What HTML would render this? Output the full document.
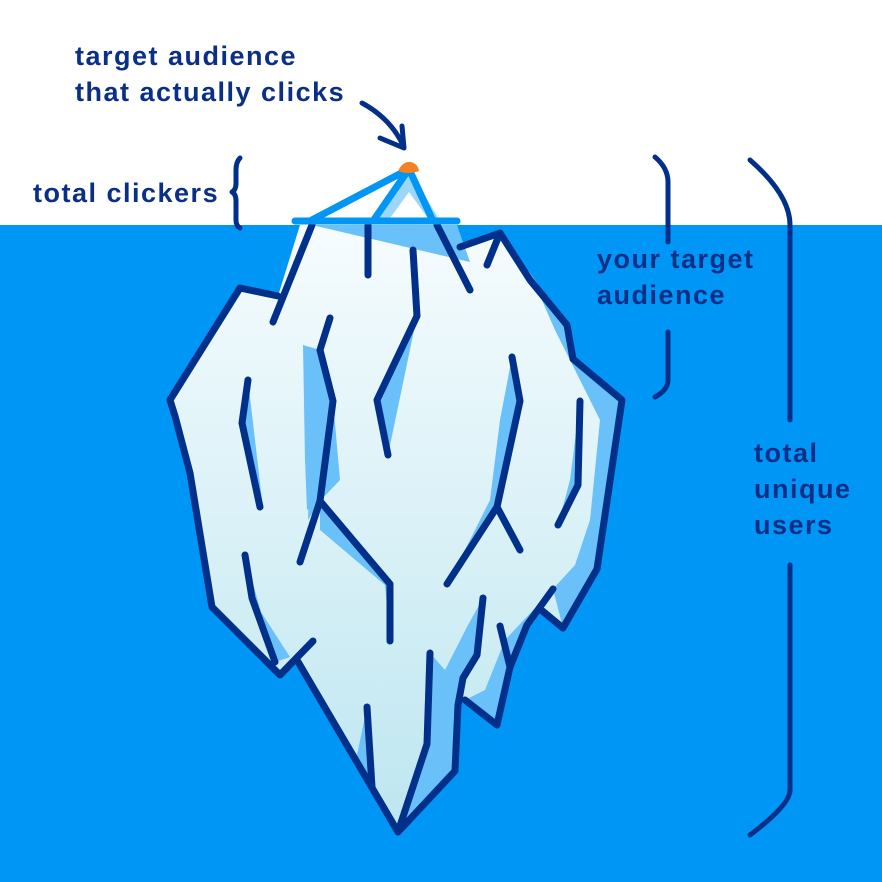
<!DOCTYPE html>
<html><head><meta charset="utf-8"><style>
html,body{margin:0;padding:0;background:#fff}
svg{display:block}
text{font-family:"Liberation Sans",sans-serif;fill:#0a2f86;font-size:27px;font-weight:bold;letter-spacing:1.5px}
</style></head><body>
<svg width="882" height="882" viewBox="0 0 882 882" xmlns="http://www.w3.org/2000/svg">
<defs>
<linearGradient id="g" x1="0" y1="0" x2="0" y2="1">
<stop offset="0" stop-color="#f6fcfe"/><stop offset="1" stop-color="#bde6f0"/>
</linearGradient>
</defs>
<rect x="0" y="225" width="882" height="657" fill="#0096f5"/>

<path d="M300,225 L437,225 L460,247 L500,233 L530,273 L567,325 L573,359 L622,400 L597,569 L563,628 L540,609 L527,625 L510,667 L497,725 L465,700 L458,705 L455,771 L398,832 L297,660 L280,675 L212,607 L190,473 L175,416 L170,400 L240,288 L278,296 Z" fill="url(#g)"/>
<g fill="#6ac0f8">
<path d="M312,225 L457,225 L470,262 Z"/>
<path d="M530,273 L567,325 L573,359 L622,400 L597,569 L563,628 L553,589 L575,565 L590,520 L600,420 L555,330 Z"/>
<path d="M320,350 L333,401 L320,501 L307,510 L305,460 L303,345 Z"/>
<path d="M333,401 L340,480 L320,501 L308,520 L310,460 Z"/>
<path d="M248,380 L255,440 L262,500 L260,507 L242,423 Z"/>
<path d="M512,357 L520,401 L497,507 L447,584 L470,540 L490,500 L500,420 Z"/>
<path d="M580,401 L578,485 L558,525 L570,480 Z"/>
<path d="M417,316 L388,455 L377,400 Z"/>
<path d="M320,501 L390,584 L390,641 L385,585 L320,530 Z"/>
<path d="M245,555 L275,662 L290,657 L252,598 Z"/>
<path d="M483,598 L477,655 L463,678 L458,705 L455,771 L398,832 L427,744 L430,653 L445,670 L468,625 Z"/>
<path d="M553,589 L527,625 L510,667 L497,725 L465,700 L485,690 L505,640 Z"/>
<path d="M367,707 L372,787 L356,760 Z"/>
</g>

<g fill="none" stroke="#00308a" stroke-width="7" stroke-linecap="round" stroke-linejoin="round">
<path d="M312,225 L273,322"/>
<path d="M313,641 L280,675 L212,607 L190,473 L175,416 L170,400 L240,288 L278,296"/>
<path d="M297,660 L398,832 L427,744 L430,653"/>
<path d="M398,832 L455,771 L458,705 L463,678 L477,655 L483,598"/>
<path d="M465,700 L497,725 L510,667 L527,625 L553,589"/>
<path d="M500,626 L510,667"/>
<path d="M540,609 L563,628 L597,569 L622,400 L573,359 L567,325 L530,280 L500,233 L487,265"/>
<path d="M437,225 L470,290"/>
<path d="M368,225 L368,275"/>
<path d="M413,250 L417,316 L377,400 L388,455"/>
<path d="M330,318 L320,350 L333,401 L320,501 L300,562"/>
<path d="M320,501 L390,584 L390,641"/>
<path d="M248,380 L242,423 L260,507"/>
<path d="M245,555 L252,598 L275,662"/>
<path d="M512,357 L520,401 L497,507 L447,584"/>
<path d="M497,507 L520,550"/>
<path d="M580,401 L578,485 L558,525"/>
<path d="M367,707 L372,787"/>
<path d="M460,247 L500,233"/>
</g>

<path d="M409,169 L373,221 L440,221 Z" fill="#9dd6fb"/>
<path d="M409,192 L388,221 L430,221 Z" fill="#ffffff"/>
<g stroke="#0096f5" stroke-width="7" stroke-linecap="round" fill="none">
<path d="M409,169 L310,221"/>
<path d="M409,169 L373,221"/>
<path d="M409,169 L433,221"/>
<path d="M295,221 L457,221"/>
</g>
<path d="M398,171 Q403,161 411,162 Q418,164 419,171 Q408,175 398,171 Z" fill="#f58220"/>

<g fill="none" stroke="#00308a" stroke-width="5" stroke-linecap="round" stroke-linejoin="round">
<path d="M362,103 Q390,118 403,145"/>
<path d="M380,138 L404,148 L402,126"/>
</g>

<g fill="none" stroke="#00308a" stroke-width="5" stroke-linecap="round" stroke-linejoin="round">
<path d="M240,158 Q236,162 236,170 L236,183 Q236,190 232,192 Q236,194 236,201 L236,220 Q236,226 240,228"/>
<path d="M655,157 Q668,168 668,182 L668,242"/>
<path d="M668,332 L668,380 Q668,390 655,397"/>
<path d="M750,160 Q790,195 790,225 L790,420"/>
<path d="M790,565 L790,790 Q790,805 750,835"/>
</g>

<text x="75" y="65">target audience</text>
<text x="75" y="101">that actually clicks</text>
<text x="33" y="202">total clickers</text>
<text x="597" y="268">your target</text>
<text x="597" y="304">audience</text>
<text x="754" y="462">total</text>
<text x="754" y="498">unique</text>
<text x="754" y="534">users</text>
</svg>
</body></html>
